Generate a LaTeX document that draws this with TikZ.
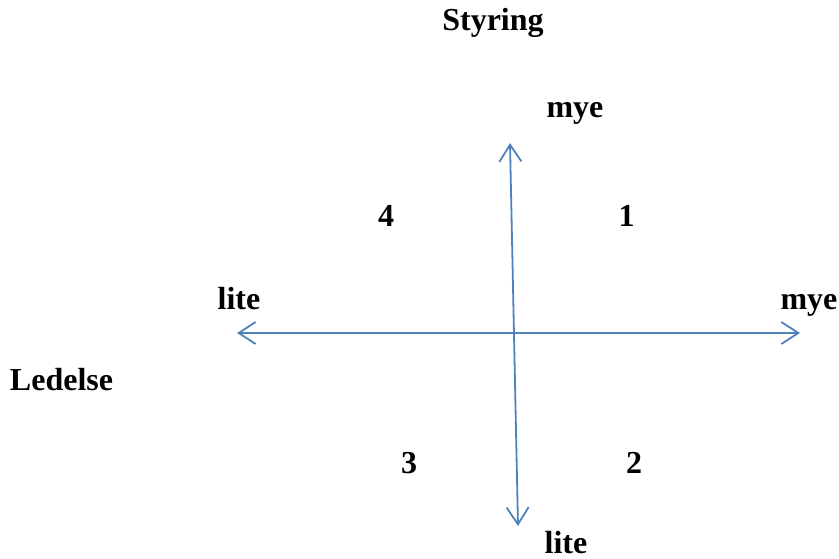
\documentclass[tikz,border=0pt]{standalone}
\usepackage{fontspec}
\setmainfont{Liberation Serif}
\usetikzlibrary{arrows.meta}
\definecolor{axisblue}{HTML}{4F81BD}
\begin{document}
\begin{tikzpicture}
  [x=1pt,y=-1pt,every node/.style={anchor=base,inner sep=0pt,font=\fontsize{32}{36}\selectfont\bfseries},
   axis/.style={draw=axisblue,line width=1.8pt,
     {Straight Barb[length=17pt,width=22pt]}-{Straight Barb[length=17pt,width=22pt]}}]
  \useasboundingbox (0,0) rectangle (839,559);
  \coordinate (top) at (510,143);
  \coordinate (bot) at (518,526);
  \coordinate (lft) at (237,333);
  \coordinate (rgt) at (800,333);
  \node (styring) at (493,31) {Styring};
  \node (ledelse) at (61.5,390) {Ledelse};
  \node (myetop) at (575,118) {mye};
  \node (litebot) at (566,553) {lite};
  \node (litelft) at (239,309) {lite};
  \node (myergt) at (809,309) {mye};
  \node (q1) at (626.5,227) {1};
  \node (q2) at (634,473) {2};
  \node (q3) at (409,473) {3};
  \node (q4) at (386,227) {4};
  \draw[axis] (lft) -- (rgt);
  \draw[axis] (top) -- (bot);
\end{tikzpicture}
\end{document}
